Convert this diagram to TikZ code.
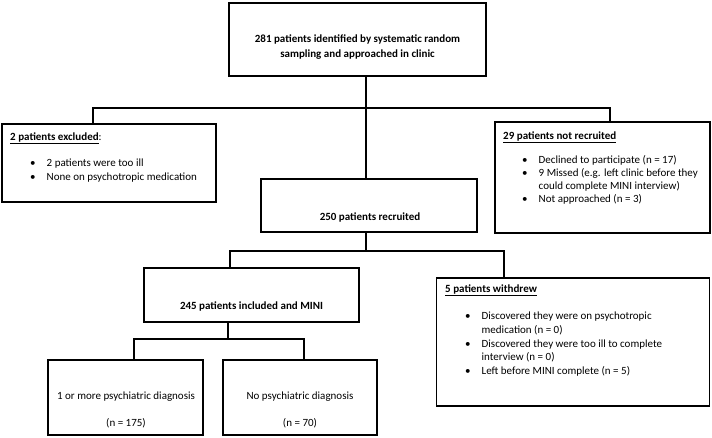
\documentclass[tikz,border=0pt]{standalone}
\usepackage{fontspec}
\setmainfont{Carlito}
\newcommand{\bit}[1]{\par\hangindent=16.5pt\hangafter=1\noindent\makebox[16.5pt][l]{\textbullet}#1}
\begin{document}
\begin{tikzpicture}[x=1pt,y=-1pt,
  box/.style={draw=black,line width=1.8pt,fill=white,inner sep=0pt},
  conn/.style={draw=black,line width=1.2pt},
  txt/.style={inner sep=0pt,font=\fontsize{11}{13.5}\selectfont}]
\useasboundingbox (0,0) rectangle (712,437);
% boxes
\node[box,line width=2.5pt,minimum width=257pt,minimum height=73pt] (top) at (357.5,39.5) {};
\node[box,minimum width=214pt,minimum height=78pt] (excl) at (109,163) {};
\node[box,minimum width=215pt,minimum height=111pt] (nrec) at (602.5,177.5) {};
\node[box,minimum width=216pt,minimum height=53pt] (rec) at (369,205.5) {};
\node[box,minimum width=215pt,minimum height=54pt] (inc) at (251.5,295) {};
\node[box,minimum width=273pt,minimum height=128pt] (wd) at (573,342) {};
\node[box,minimum width=155pt,minimum height=75pt] (d1) at (125.5,397.5) {};
\node[box,minimum width=154pt,minimum height=75pt] (d2) at (300,397.5) {};
% texts
\node[txt,align=center,font=\fontsize{11}{15}\selectfont\bfseries] (ttop) at (357.5,47.5)
  {281 patients identified by systematic random\\sampling and approached in clinic};
\node[txt,anchor=base west] (texcl) at (10,140.5)
  {\textbf{\underline{2 patients excluded}}:};
\node[txt,anchor=base west] (texclb) at (30,166.5)
  {\begin{minipage}[t]{185pt}\fontsize{11}{14}\selectfont
   \bit{2 patients were too ill}
   \bit{None on psychotropic medication}\end{minipage}};
\node[txt,anchor=base west] (tnrec) at (503,139.5)
  {\textbf{\underline{29 patients not recruited}}};
\node[txt,anchor=base west] (tnrecb) at (522,163.5)
  {\begin{minipage}[t]{185pt}\fontsize{11}{13}\selectfont
   \bit{Declined to participate (n = 17)}
   \bit{9 Missed (e.g. left clinic before they\\could complete MINI interview)}
   \bit{Not approached (n = 3)}\end{minipage}};
\node[txt,font=\fontsize{11}{13.5}\selectfont\bfseries] (trec) at (370,217) {250 patients recruited};
\node[txt,font=\fontsize{11}{13.5}\selectfont\bfseries] (tinc) at (251.5,306) {245 patients included and MINI};
\node[txt,anchor=base west] (twd) at (445,292.5)
  {\textbf{\underline{5 patients withdrew}}};
\node[txt,anchor=base west] (twdb) at (465,319.5)
  {\begin{minipage}[t]{240pt}\fontsize{11}{13.75}\selectfont
   \bit{Discovered they were on psychotropic\\medication (n = 0)}
   \bit{Discovered they were too ill to complete\\interview (n = 0)}
   \bit{Left before MINI complete (n = 5)}\end{minipage}};
\node[txt] (td1a) at (126,397) {1 or more psychiatric diagnosis};
\node[txt] (td1b) at (126,423) {(n = 175)};
\node[txt] (td2a) at (300,397) {No psychiatric diagnosis};
\node[txt] (td2b) at (300,423) {(n = 70)};
% connectors
\coordinate (j1) at (366,108);
\coordinate (hl) at (93,108);
\coordinate (hr) at (610,108);
\draw[conn] (top.south -| j1) -- (rec.north -| j1);
\draw[conn] (excl.north -| hl) -- (hl) -- (hr) -- (nrec.north -| hr);
\coordinate (j2) at (366,251);
\coordinate (ml) at (230,251);
\coordinate (mr) at (504,251);
\draw[conn] (rec.south -| j2) -- (j2);
\draw[conn] (inc.north -| ml) -- (ml) -- (mr) -- (wd.north -| mr);
\coordinate (j3) at (228,339);
\coordinate (bl) at (134,339);
\coordinate (br) at (304,339);
\draw[conn] (inc.south -| j3) -- (j3);
\draw[conn] (d1.north -| bl) -- (bl) -- (br) -- (d2.north -| br);
\end{tikzpicture}
\end{document}
